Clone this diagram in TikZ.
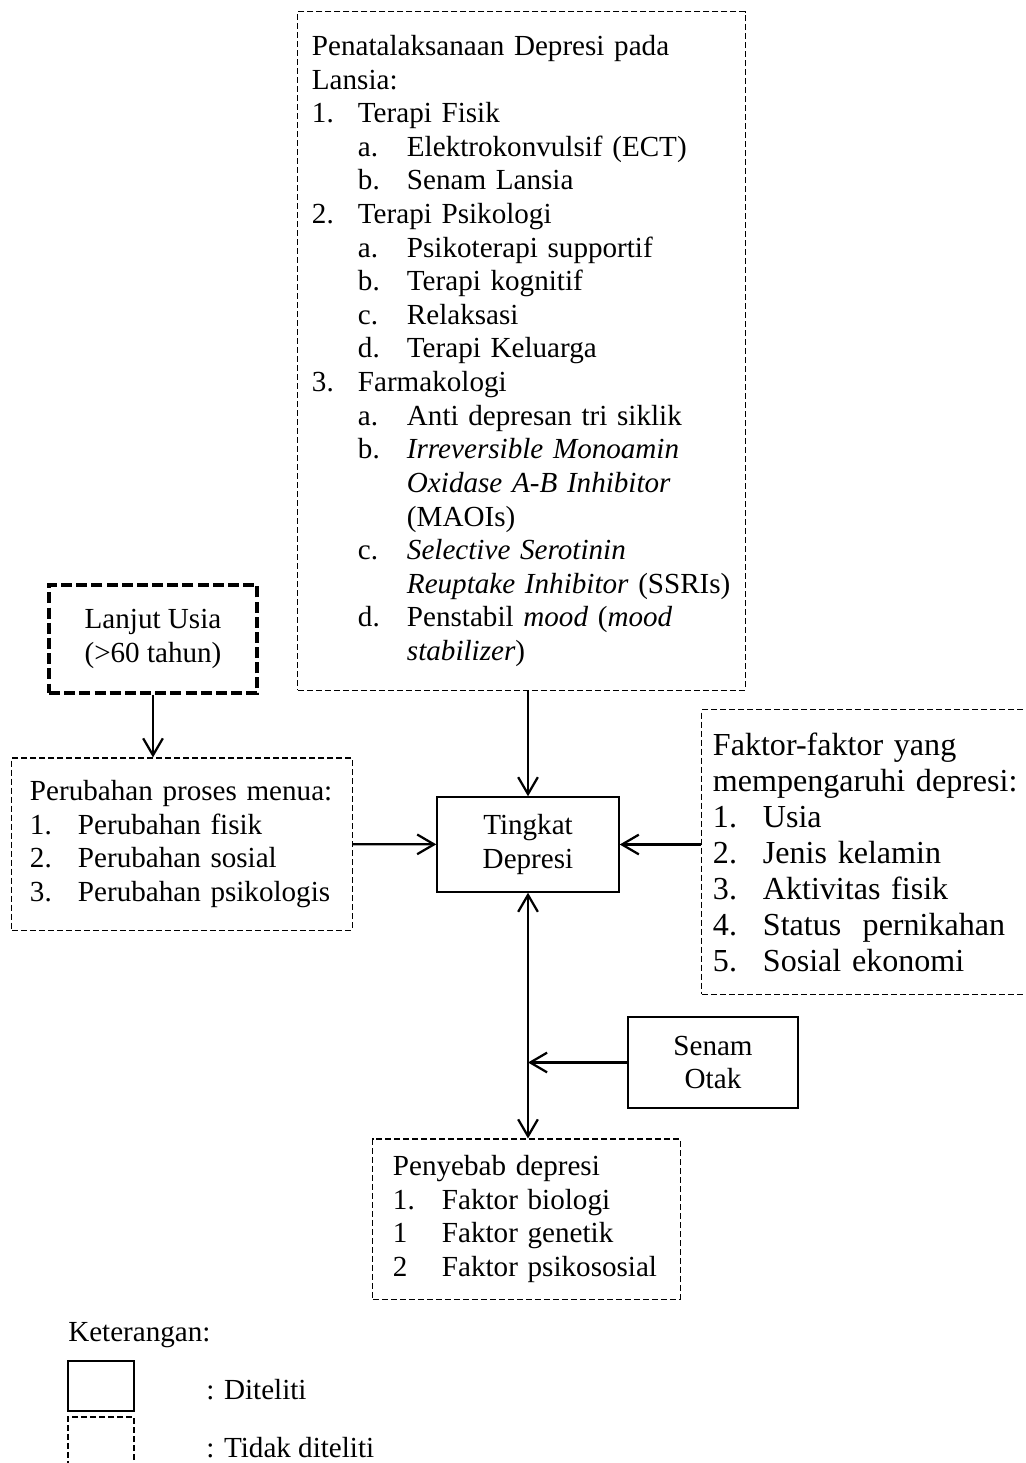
\documentclass[tikz,border=0pt]{standalone}
\usepackage{fontspec}
\setmainfont{Liberation Serif}
\usetikzlibrary{arrows.meta}

\newcommand{\butir}[2][1.15cm]{\makebox[#1][l]{#2}}
\newcommand{\subbutir}[1]{\hspace*{1.15cm}\makebox[1.225cm][l]{#1}}
\newcommand{\sambung}{\hspace*{2.375cm}}

\begin{document}
\begin{tikzpicture}
	[x=0.025cm, y=-0.025cm, >={Straight Barb[length=12pt,width=14pt]},
	isi/.style={font=\fontsize{20.7pt}{23.9pt}\selectfont},
	diteliti/.style={draw, rectangle, line width=1pt, isi, align=center},
	tidak/.style={draw, rectangle, line width=0.75pt, dash pattern=on 4.3pt off 2.1pt, isi, align=left},
	tebal/.style={draw, rectangle, line width=2.6pt, dash pattern=on 7.8pt off 3pt, isi, align=center}]
	\clip (0,0) rectangle (1025,1463);
	\node[tidak, text width=10.475cm, inner xsep=0.35cm, minimum height=16.95cm] (terapi) at (521.5,351) {Penatalaksanaan Depresi pada\\
		Lansia:\\
		\butir{1.}Terapi Fisik\\
		\subbutir{a.}Elektrokonvulsif (ECT)\\
		\subbutir{b.}Senam Lansia\\
		\butir{2.}Terapi Psikologi\\
		\subbutir{a.}Psikoterapi supportif\\
		\subbutir{b.}Terapi kognitif\\
		\subbutir{c.}Relaksasi\\
		\subbutir{d.}Terapi Keluarga\\
		\butir{3.}Farmakologi\\
		\subbutir{a.}Anti depresan tri siklik\\
		\subbutir{b.}\textit{Irreversible Monoamin}\\
		\sambung\textit{Oxidase A-B Inhibitor}\\
		\sambung(MAOIs)\\
		\subbutir{c.}\textit{Selective Serotinin}\\
		\sambung\textit{Reuptake Inhibitor} (SSRIs)\\
		\subbutir{d.}Penstabil \textit{mood} (\textit{mood}\\
		\sambung\textit{stabilizer})};
	\node[tebal, minimum width=5.2cm, minimum height=2.7cm] (lansia) at (153,639) {Lanjut Usia\\(>60 tahun)};
	\node[tidak, text width=7.6cm, inner xsep=0.45cm, minimum height=4.3cm] (menua) at (182,844) {Perubahan proses menua:\\
		\butir[1.2cm]{1.}Perubahan fisik\\
		\butir[1.2cm]{2.}Perubahan sosial\\
		\butir[1.2cm]{3.}Perubahan psikologis};
	\node[diteliti, minimum width=4.55cm, minimum height=2.375cm] (tingkat) at (528,844.5) {Tingkat\\Depresi};
	\node[tidak, text width=7.9cm, inner xsep=0.275cm, minimum height=7.1cm, font=\fontsize{22.8pt}{25.6pt}\selectfont] (faktor) at (871,852) {Faktor-faktor yang\\
		mempengaruhi depresi:\\
		\butir[1.25cm]{1.}Usia\\
		\butir[1.25cm]{2.}Jenis kelamin\\
		\butir[1.25cm]{3.}Aktivitas fisik\\
		\butir[1.25cm]{4.}Status\ \ pernikahan\\
		\butir[1.25cm]{5.}Sosial ekonomi};
	\node[diteliti, minimum width=4.25cm, minimum height=2.275cm] (senam) at (713,1062.5) {Senam\\Otak};
	\node[tidak, text width=6.675cm, inner xsep=0.5cm, minimum height=4cm] (penyebab) at (526.5,1219) {Penyebab depresi\\
		\butir[1.225cm]{1.}Faktor biologi\\
		\butir[1.225cm]{1}Faktor genetik\\
		\butir[1.225cm]{2}Faktor psikososial};
	% keterangan
	\node[isi, anchor=west, inner sep=0pt] (ket) at (68,1335) {Keterangan:};
	\node[diteliti, minimum width=1.65cm, minimum height=1.25cm] (kotak1) at (101,1386) {};
	\node[tidak, minimum width=1.65cm, minimum height=1.45cm] (kotak2) at (101,1446) {};
	\node[isi, anchor=west, inner sep=0pt] (ket1) at (206,1390) {: Diteliti};
	\node[isi, anchor=west, inner sep=0pt] (ket2) at (206,1448) {: Tidak diteliti};
	\path[->, line width=1.6pt] (lansia) edge (menua.north -| lansia)
	(terapi.south -| tingkat) edge (tingkat)
	(menua) edge (tingkat)
	(faktor.west |- tingkat) edge (tingkat)
	(senam) edge (tingkat |- senam)
	(tingkat.south) edge[<->] (penyebab.north -| tingkat);
\end{tikzpicture}
\end{document}
